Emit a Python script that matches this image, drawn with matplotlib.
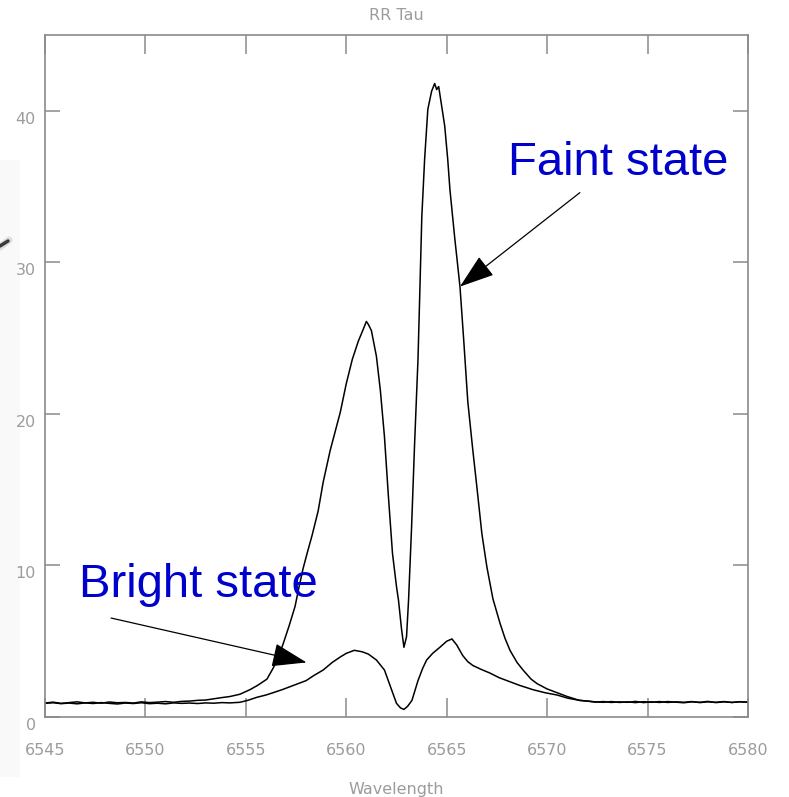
import matplotlib
matplotlib.use("Agg")
import matplotlib.pyplot as plt
from matplotlib.transforms import ScaledTranslation
from matplotlib.patches import Rectangle
from matplotlib.lines import Line2D

# H-alpha profile of RR Tau in the faint state (wavelength in Angstrom, relative flux)
faint_wave = [
    6545.0, 6545.4, 6545.8, 6546.2, 6546.6, 6547.0, 6547.4, 6547.8, 6548.2, 6548.6,
    6549.0, 6549.4, 6549.8, 6550.2, 6550.6, 6551.0, 6551.4, 6551.8, 6552.2, 6552.6,
    6553.0, 6553.4, 6553.8, 6554.2, 6554.7, 6555.2, 6555.6, 6556.05, 6556.35, 6556.6,
    6556.85, 6557.15, 6557.45, 6557.65, 6557.85, 6558.05, 6558.3, 6558.6, 6558.85, 6559.2,
    6559.7, 6560.0, 6560.3, 6560.6, 6560.85, 6561.0, 6561.1, 6561.25, 6561.5, 6561.7,
    6561.9, 6562.1, 6562.3, 6562.5, 6562.6, 6562.75, 6562.87, 6563.0, 6563.1, 6563.25,
    6563.4, 6563.57, 6563.66, 6563.76, 6563.9, 6564.06, 6564.25, 6564.4, 6564.5, 6564.6,
    6564.75, 6564.9, 6565.05, 6565.16, 6565.4, 6565.66, 6565.85, 6566.05, 6566.3, 6566.5,
    6566.75, 6567.0, 6567.3, 6567.65, 6567.9, 6568.15, 6568.5, 6568.8, 6569.2, 6569.5,
    6570.0, 6570.5, 6571.0, 6571.6, 6572.0, 6572.4, 6572.8, 6573.2, 6573.6, 6574.0,
    6574.4, 6574.8, 6575.2, 6575.6, 6576.0, 6576.4, 6576.8, 6577.2, 6577.6, 6578.0,
    6578.4, 6578.8, 6579.2, 6579.6, 6580.0,
]
faint_flux = [
    0.92, 0.98, 0.90, 0.95, 1.00, 0.93, 0.97, 0.91, 0.99, 0.94,
    0.96, 0.92, 1.00, 0.95, 0.98, 1.02, 0.97, 1.03, 1.05, 1.10,
    1.12, 1.20, 1.28, 1.35, 1.50, 1.80, 2.10, 2.50, 3.20, 3.90,
    4.80, 6.00, 7.30, 8.60, 9.80, 10.8, 12.0, 13.6, 15.5, 17.6,
    20.1, 22.0, 23.6, 24.8, 25.6, 26.1, 25.9, 25.5, 23.8, 21.5,
    18.5, 14.5, 10.8, 8.60, 7.70, 5.80, 4.60, 5.30, 7.70, 12.5,
    18.0, 23.6, 28.0, 33.0, 36.8, 40.1, 41.3, 41.8, 41.4, 41.6,
    40.3, 39.0, 36.8, 34.8, 31.6, 28.4, 24.8, 20.8, 17.6, 15.2,
    12.1, 9.90, 7.80, 6.20, 5.20, 4.40, 3.60, 3.10, 2.50, 2.20,
    1.85, 1.60, 1.35, 1.10, 1.05, 0.98, 1.02, 0.96, 1.00, 0.97,
    1.03, 0.95, 1.00, 0.96, 1.02, 0.98, 0.94, 1.00, 0.97, 1.03,
    0.95, 1.00, 0.96, 1.01, 0.97,
]

# H-alpha profile of RR Tau in the bright state
bright_wave = [
    6545.0, 6545.4, 6545.8, 6546.2, 6546.6, 6547.0, 6547.4, 6547.8, 6548.2, 6548.6,
    6549.0, 6549.4, 6549.8, 6550.2, 6550.6, 6551.0, 6551.4, 6551.8, 6552.2, 6552.6,
    6553.0, 6553.4, 6553.8, 6554.2, 6554.7, 6555.1, 6555.55, 6556.0, 6556.35, 6556.8,
    6557.2, 6557.6, 6558.0, 6558.4, 6558.85, 6559.3, 6559.7, 6560.0, 6560.4, 6560.8,
    6561.1, 6561.5, 6561.9, 6562.2, 6562.5, 6562.7, 6562.87, 6563.05, 6563.27, 6563.57,
    6563.8, 6564.0, 6564.3, 6564.66, 6565.0, 6565.26, 6565.5, 6565.8, 6566.05, 6566.3,
    6566.7, 6567.15, 6567.6, 6568.0, 6568.6, 6569.3, 6569.9, 6570.5, 6571.0, 6571.6,
    6572.0, 6572.4, 6572.8, 6573.2, 6573.6, 6574.0, 6574.4, 6574.8, 6575.2, 6575.6,
    6576.0, 6576.4, 6576.8, 6577.2, 6577.6, 6578.0, 6578.4, 6578.8, 6579.2, 6579.6,
    6580.0,
]
bright_flux = [
    0.90, 0.94, 0.88, 0.92, 0.87, 0.93, 0.89, 0.95, 0.90, 0.86,
    0.92, 0.89, 0.94, 0.88, 0.91, 0.87, 0.93, 0.90, 0.92, 0.89,
    0.93, 0.91, 0.95, 0.93, 0.97, 1.10, 1.30, 1.45, 1.60, 1.80,
    2.00, 2.20, 2.40, 2.75, 3.10, 3.60, 3.96, 4.20, 4.40, 4.30,
    4.15, 3.76, 3.10, 2.00, 0.90, 0.60, 0.50, 0.70, 1.10, 2.40,
    3.20, 3.76, 4.20, 4.60, 5.00, 5.15, 4.75, 4.05, 3.65, 3.40,
    3.15, 2.90, 2.60, 2.40, 2.10, 1.80, 1.60, 1.45, 1.25, 1.10,
    1.05, 1.00, 0.97, 1.02, 0.96, 1.00, 0.95, 1.01, 0.97, 1.02,
    0.96, 1.00, 0.97, 1.02, 0.95, 1.00, 0.97, 1.02, 0.96, 1.00,
    0.98,
]

x_ticks = [6545, 6550, 6555, 6560, 6565, 6570, 6575, 6580]
y_ticks = [0, 10, 20, 30, 40]

AXIS_GREY = "#8a8a8a"
LABEL_GREY = "#9c9c9c"
NOTE_BLUE = "#0000cc"

fig = plt.figure(figsize=(7.89, 7.97), dpi=100)
fig.patch.set_facecolor("white")

# pale strip along the left edge of the page
fig.add_artist(Rectangle((0, 20 / 797), 20 / 789, 617 / 797, transform=fig.transFigure,
                         facecolor="#f9f9f9", edgecolor="none", zorder=0))
fig.add_artist(Line2D([0 / 789, 9 / 789], [(797 - 247) / 797, (797 - 240) / 797],
                      transform=fig.transFigure, color="#dddddd", lw=5,
                      solid_capstyle="round", zorder=1))
fig.add_artist(Line2D([0 / 789, 8 / 789], [(797 - 246) / 797, (797 - 241) / 797],
                      transform=fig.transFigure, color="#3a3a3a", lw=2.5,
                      solid_capstyle="round", zorder=1))

ax = fig.add_axes([45 / 789, (797 - 717) / 797, 703 / 789, 682 / 797])
ax.set_facecolor("white")

ax.plot(faint_wave, faint_flux, color="black", lw=1.1)
ax.plot(bright_wave, bright_flux, color="black", lw=1.1)

ax.set_xlim(6545, 6580)
ax.set_ylim(0, 45)
ax.set_xticks(x_ticks)
ax.set_yticks(y_ticks)
ax.set_xticklabels([str(v) for v in x_ticks])
ax.set_yticklabels([str(v) for v in y_ticks])

for sp in ax.spines.values():
    sp.set_color(AXIS_GREY)
    sp.set_linewidth(1.2)

ax.tick_params(axis="x", which="major", direction="in", length=13.5, width=1.1,
               color=AXIS_GREY, labelcolor=LABEL_GREY, labelsize=11.5, pad=19,
               top=True, bottom=True)
ax.tick_params(axis="y", which="major", direction="in", length=10.8, width=1.1,
               color=AXIS_GREY, labelcolor=LABEL_GREY, labelsize=11.5, pad=6.5,
               left=True, right=True)

# y tick labels sit slightly below their ticks
shift = ScaledTranslation(0, -7 / 100, fig.dpi_scale_trans)
for lab in ax.get_yticklabels():
    lab.set_transform(lab.get_transform() + shift)

ax.set_title("RR Tau", color=LABEL_GREY, fontsize=11.5, pad=11)
ax.set_xlabel("Wavelength", color=LABEL_GREY, fontsize=11.5, labelpad=17)

arrow_style = "-|>,head_length=2.2,head_width=0.75"
ax.annotate("", xy=(6565.66, 28.4), xytext=(6571.63, 34.6),
            arrowprops=dict(arrowstyle=arrow_style, mutation_scale=10,
                            color="black", lw=0.9, shrinkA=0, shrinkB=0))
ax.annotate("", xy=(6558.02, 3.6), xytext=(6548.29, 6.53),
            arrowprops=dict(arrowstyle=arrow_style, mutation_scale=10,
                            color="black", lw=0.9, shrinkA=0, shrinkB=0))

ax.text(6568.05, 35.78, "Faint state", color=NOTE_BLUE, fontsize=34,
        family="Liberation Sans", ha="left", va="baseline")
ax.text(6546.69, 7.92, "Bright state", color=NOTE_BLUE, fontsize=34,
        family="Liberation Sans", ha="left", va="baseline")

fig.savefig("out.png", dpi=100, facecolor="white")
